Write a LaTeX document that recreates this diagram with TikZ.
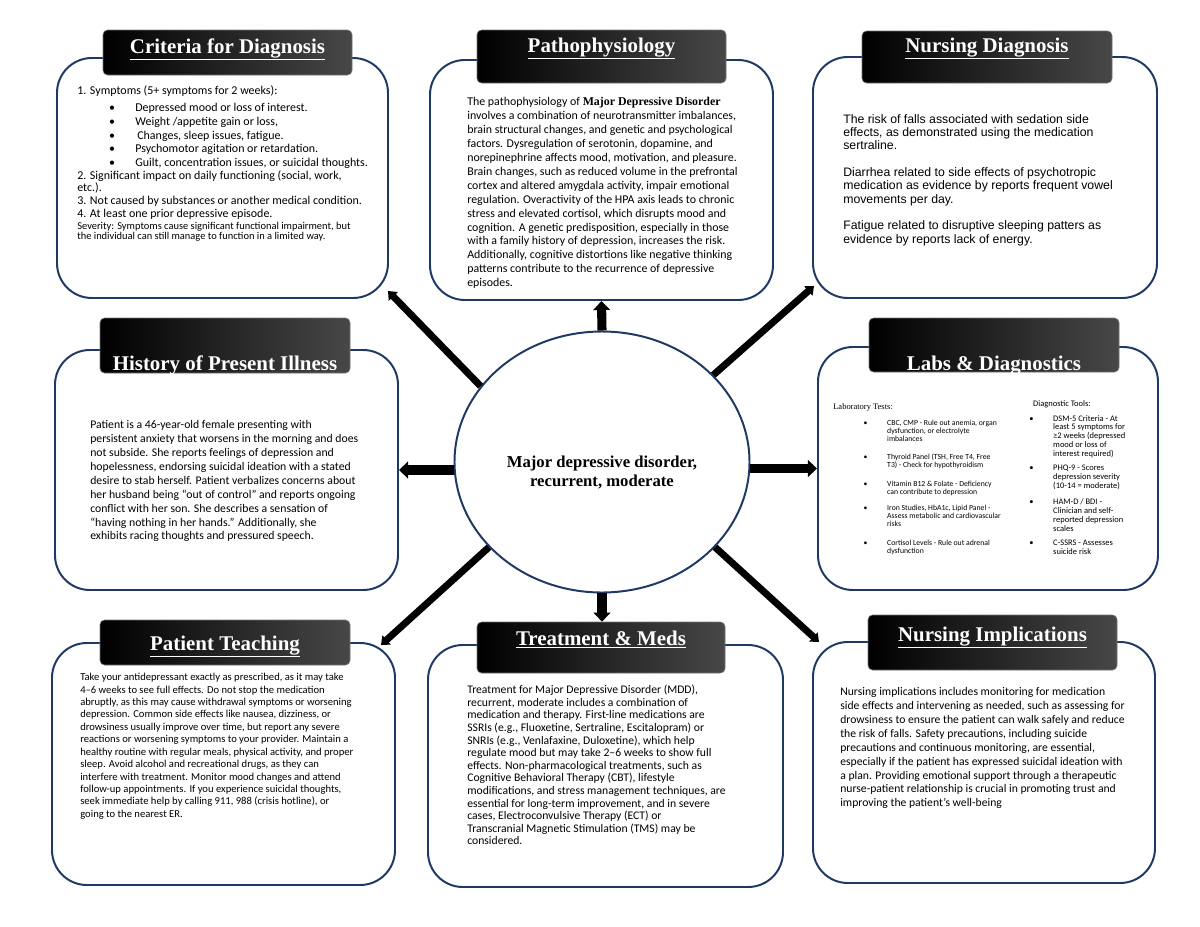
\documentclass[tikz,border=0pt]{standalone}
\usepackage{fontspec}
\setmainfont{Liberation Serif}
\newfontfamily\bodyfont{Carlito}
\newfontfamily\dxfont{Liberation Sans}
\usetikzlibrary{shapes.geometric,arrows.meta,calc}
\definecolor{panelnavy}{RGB}{31,56,100}
\newcommand\pxu{0.66pt}
\newcommand\bul[1]{\makebox[#1][l]{\textbullet}}

\begin{document}
\begin{tikzpicture}
  [
    x=0.66pt, y=-0.66pt,
    panelbox/.style =
      {draw=panelnavy, line width=1.3pt, fill=white, rounded corners=23pt},
    headbar/.style =
      {draw=black!55, line width=0.4pt, rounded corners=3pt,
       left color=black, right color=black!72},
    headtext/.style =
      {anchor=base, inner sep=0pt, text=white,
       font=\fontsize{13.8}{16}\selectfont\bfseries},
    bodytext/.style =
      {anchor=north west, inner sep=0pt, align=left},
    hub/.style =
      {draw=panelnavy, line width=1.3pt, fill=white, ellipse},
    hubtext/.style =
      {align=center, inner sep=0pt, font=\fontsize{11}{12.5}\selectfont\bfseries},
    spoke/.style =
      {line width=6pt, -{Triangle[width=11pt,length=6pt]}},
    slant/.style =
      {line width=4.6pt, -{Triangle[width=8pt,length=5pt]}}
  ]
  \useasboundingbox (0,0) rectangle (1200,927);

  \node [panelbox, minimum width=331*\pxu, minimum height=240*\pxu] at (222.5,178) (crit)  {};
  \node [panelbox, minimum width=343*\pxu, minimum height=240*\pxu] at (601.5,180) (patho) {};
  \node [panelbox, minimum width=344*\pxu, minimum height=241*\pxu] at (985,177.5) (ndx)   {};
  \node [panelbox, minimum width=343*\pxu, minimum height=240*\pxu] at (226.5,470) (hpi)   {};
  \node [panelbox, minimum width=340*\pxu, minimum height=243*\pxu] at (988,468.5) (labs)  {};
  \node [panelbox, minimum width=343*\pxu, minimum height=242*\pxu] at (223.5,764) (teach) {};
  \node [panelbox, minimum width=355*\pxu, minimum height=242*\pxu] at (605.5,766) (treat) {};
  \node [panelbox, minimum width=342*\pxu, minimum height=241*\pxu] at (984,762.5) (nimp)  {};

  \node [headbar, minimum width=249*\pxu, minimum height=45*\pxu] at (227.5,52.5) (crithdr)  {};
  \node [headbar, minimum width=249*\pxu, minimum height=53*\pxu] at (601.5,56.5) (pathohdr) {};
  \node [headbar, minimum width=250*\pxu, minimum height=52*\pxu] at (987,57)     (ndxhdr)   {};
  \node [headbar, minimum width=250*\pxu, minimum height=55*\pxu] at (225,345.5)  (hpihdr)   {};
  \node [headbar, minimum width=250*\pxu, minimum height=54*\pxu] at (994,345)    (labshdr)  {};
  \node [headbar, minimum width=250*\pxu, minimum height=45*\pxu] at (225,642.5)  (teachhdr) {};
  \node [headbar, minimum width=248*\pxu, minimum height=51*\pxu] at (601,647.5)  (treathdr) {};
  \node [headbar, minimum width=249*\pxu, minimum height=55*\pxu] at (992.5,642.5) (nimphdr) {};

  \node [headtext] at (227.5,53) (crittl)  {\underline{Criteria for Diagnosis}};
  \node [headtext] at (601.5,52) (pathotl) {\underline{Pathophysiology}};
  \node [headtext] at (987,52)   (ndxtl)   {\underline{Nursing Diagnosis}};
  \node [headtext] at (225,370)  (hpitl)   {History of Present Illness};
  \node [headtext] at (994,370)  (labstl)  {Labs \& Diagnostics};
  \node [headtext] at (225,650)  (teachtl) {\underline{Patient Teaching}};
  \node [headtext] at (601,645)  (treattl) {\underline{Treatment \& Meds}};
  \node [headtext] at (992.5,641) (nimptl) {\underline{Nursing Implications}};

  \node [bodytext, font=\bodyfont\fontsize{7.9}{8.4}\selectfont] at (77,85) (critx)
    {1. Symptoms (5+ symptoms for 2 weeks):\\[3.3pt]
     \hspace*{21pt}\bul{17.3pt}Depressed mood or loss of interest.\\[0.6pt]
     \hspace*{21pt}\bul{17.3pt}Weight /appetite gain or loss,\\[0.6pt]
     \hspace*{21pt}\bul{17.3pt}\,Changes, sleep issues, fatigue.\\[0.6pt]
     \hspace*{21pt}\bul{17.3pt}Psychomotor agitation or retardation.\\[0.6pt]
     \hspace*{21pt}\bul{17.3pt}Guilt, concentration issues, or suicidal thoughts.\\
     2. Significant impact on daily functioning (social, work,\\
     etc.).\\
     3. Not caused by substances or another medical condition.\\
     4. At least one prior depressive episode.};
  \node [bodytext, font=\bodyfont\fontsize{6.9}{6.9}\selectfont] at (77,221.5) (critsev)
    {Severity: Symptoms cause significant functional impairment, but\\
     the individual can still manage to function in a limited way.};

  \node [bodytext, font=\bodyfont\fontsize{7.85}{9.2}\selectfont] at (467,97) (pathox)
    {The pathophysiology of {\rmfamily\bfseries Major Depressive Disorder}\\
     involves a combination of neurotransmitter imbalances,\\
     brain structural changes, and genetic and psychological\\
     factors. Dysregulation of serotonin, dopamine, and\\
     norepinephrine affects mood, motivation, and pleasure.\\
     Brain changes, such as reduced volume in the prefrontal\\
     cortex and altered amygdala activity, impair emotional\\
     regulation. Overactivity of the HPA axis leads to chronic\\
     stress and elevated cortisol, which disrupts mood and\\
     cognition. A genetic predisposition, especially in those\\
     with a family history of depression, increases the risk.\\
     Additionally, cognitive distortions like negative thinking\\
     patterns contribute to the recurrence of depressive\\
     episodes.};

  \node [bodytext, font=\dxfont\fontsize{8.1}{8.8}\selectfont] at (843,114) (ndxx)
    {The risk of falls associated with sedation side\\
     effects, as demonstrated using the medication\\
     sertraline.\\[8.8pt]
     Diarrhea related to side effects of psychotropic\\
     medication as evidence by reports frequent vowel\\
     movements per day.\\[8.8pt]
     Fatigue related to disruptive sleeping patters as\\
     evidence by reports lack of energy.};

  \node [bodytext, font=\bodyfont\fontsize{7.75}{9.2}\selectfont] at (90,420) (hpix)
    {Patient is a 46-year-old female presenting with\\
     persistent anxiety that worsens in the morning and does\\
     not subside. She reports feelings of depression and\\
     hopelessness, endorsing suicidal ideation with a stated\\
     desire to stab herself. Patient verbalizes concerns about\\
     her husband being “out of control” and reports ongoing\\
     conflict with her son. She describes a sensation of\\
     “having nothing in her hands.” Additionally, she\\
     exhibits racing thoughts and pressured speech.};

  \node [bodytext, font=\bodyfont\fontsize{5.1}{5.3}\selectfont] at (833,403) (labsl)
    {{\rmfamily\fontsize{5.6}{6}\selectfont Laboratory Tests:}\\[5.3pt]
     \hspace*{20pt}\bul{15.6pt}CBC, CMP - Rule out anemia, organ\\
     \hspace*{35.6pt}dysfunction, or electrolyte\\
     \hspace*{35.6pt}imbalances\\[6.4pt]
     \hspace*{20pt}\bul{15.6pt}Thyroid Panel (TSH, Free T4, Free\\
     \hspace*{35.6pt}T3) - Check for hypothyroidism\\[7.6pt]
     \hspace*{20pt}\bul{15.6pt}Vitamin B12 \& Folate - Deficiency\\
     \hspace*{35.6pt}can contribute to depression\\[5pt]
     \hspace*{20pt}\bul{15.6pt}Iron Studies, HbA1c, Lipid Panel -\\
     \hspace*{35.6pt}Assess metabolic and cardiovascular\\
     \hspace*{35.6pt}risks\\[7.6pt]
     \hspace*{20pt}\bul{15.6pt}Cortisol Levels - Rule out adrenal\\
     \hspace*{35.6pt}dysfunction};
  \node [bodytext, font=\bodyfont\fontsize{5.6}{5.9}\selectfont] at (1029,400) (labsr)
    {\hspace*{2.6pt}Diagnostic Tools:\\[3.9pt]
     \bul{15.8pt}DSM-5 Criteria - At\\
     \hspace*{15.8pt}least 5 symptoms for\\
     \hspace*{15.8pt}≥2 weeks (depressed\\
     \hspace*{15.8pt}mood or loss of\\
     \hspace*{15.8pt}interest required)\\[3.4pt]
     \bul{15.8pt}PHQ-9 - Scores\\
     \hspace*{15.8pt}depression severity\\
     \hspace*{15.8pt}(10-14 = moderate)\\[4.6pt]
     \bul{15.8pt}HAM-D / BDI -\\
     \hspace*{15.8pt}Clinician and self-\\
     \hspace*{15.8pt}reported depression\\
     \hspace*{15.8pt}scales\\[3.4pt]
     \bul{15.8pt}C-SSRS - Assesses\\
     \hspace*{15.8pt}suicide risk};

  \node [bodytext, font=\bodyfont\fontsize{7}{8.2}\selectfont] at (80,673) (teachx)
    {Take your antidepressant exactly as prescribed, as it may take\\
     4–6 weeks to see full effects. Do not stop the medication\\
     abruptly, as this may cause withdrawal symptoms or worsening\\
     depression. Common side effects like nausea, dizziness, or\\
     drowsiness usually improve over time, but report any severe\\
     reactions or worsening symptoms to your provider. Maintain a\\
     healthy routine with regular meals, physical activity, and proper\\
     sleep. Avoid alcohol and recreational drugs, as they can\\
     interfere with treatment. Monitor mood changes and attend\\
     follow-up appointments. If you experience suicidal thoughts,\\
     seek immediate help by calling 911, 988 (crisis hotline), or\\
     going to the nearest ER.};

  \node [bodytext, font=\bodyfont\fontsize{7.7}{8.3}\selectfont] at (467,685) (treatx)
    {Treatment for Major Depressive Disorder (MDD),\\
     recurrent, moderate includes a combination of\\
     medication and therapy. First-line medications are\\
     SSRIs (e.g., Fluoxetine, Sertraline, Escitalopram) or\\
     SNRIs (e.g., Venlafaxine, Duloxetine), which help\\
     regulate mood but may take 2–6 weeks to show full\\
     effects. Non-pharmacological treatments, such as\\
     Cognitive Behavioral Therapy (CBT), lifestyle\\
     modifications, and stress management techniques, are\\
     essential for long-term improvement, and in severe\\
     cases, Electroconvulsive Therapy (ECT) or\\
     Transcranial Magnetic Stimulation (TMS) may be\\
     considered.};

  \node [bodytext, font=\bodyfont\fontsize{7.7}{9.2}\selectfont] at (840,687) (nimpx)
    {Nursing implications includes monitoring for medication\\
     side effects and intervening as needed, such as assessing for\\
     drowsiness to ensure the patient can walk safely and reduce\\
     the risk of falls. Safety precautions, including suicide\\
     precautions and continuous monitoring, are essential,\\
     especially if the patient has expressed suicidal ideation with\\
     a plan. Providing emotional support through a therapeutic\\
     nurse-patient relationship is crucial in promoting trust and\\
     improving the patient’s well-being};

  \node [hub, minimum width=295*\pxu, minimum height=261*\pxu] at (602,462) (hub) {};
  \node [hubtext] at (602,472.5) (hubtl) {Major depressive disorder,\\ recurrent, moderate};

  \draw [spoke] (hub.north)          -- (patho.south);
  \draw [spoke] (hub.south)          -- (hub.south |- treathdr.north);
  \draw [spoke] (hub.west |- hpi.east) -- (hpi.east);
  \draw [spoke] (hub.east |- labs.west) -- (labs.west);
  \draw [slant] (hub.148) -- ($(crit.south east)+(-1,-8)$);
  \draw [slant] (hub.38)  -- ($(ndx.south west)+(2,-13)$);
  \draw [slant] (hub.217) -- ($(teach.north east)+(-15,3)$);
  \draw [slant] (hub.323) -- ($(nimp.north west)+(7,1)$);
\end{tikzpicture}
\end{document}
